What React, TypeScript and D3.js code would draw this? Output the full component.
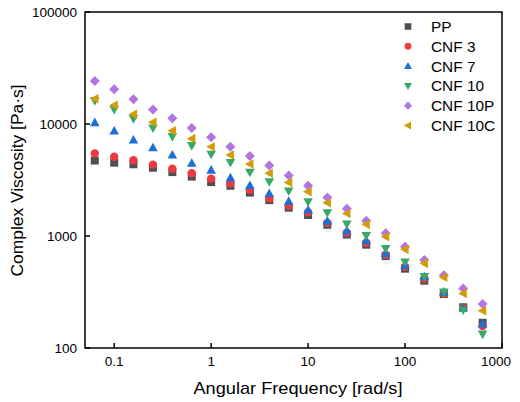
import React from "react";
import * as d3 from "d3";

const frequencies = [0.0631, 0.1, 0.158, 0.251, 0.398, 0.631, 1, 1.58, 2.51, 3.98, 6.31, 10, 15.8, 25.1, 39.8, 63.1, 100, 158, 251, 398, 631];

const ppValues = [4720, 4520, 4370, 4070, 3720, 3390, 3030, 2810, 2440, 2090, 1790, 1540, 1260, 1030, 836, 662, 511, 399, 303, 231, 168];
const cnf3Values = [5470, 5100, 4740, 4340, 3990, 3630, 3250, 2950, 2580, 2170, 1870, 1630, 1310, 1070, 871, 680, 532, 416, 307, 228, 157];
const cnf7Values = [10300, 8670, 7200, 6150, 5290, 4460, 3880, 3310, 2830, 2400, 2040, 1710, 1360, 1110, 908, 700, 547, 433, 316, 228, 164];
const cnf10Values = [16100, 13500, 11150, 9200, 7700, 6400, 5360, 4520, 3710, 3050, 2520, 2020, 1610, 1280, 1010, 771, 586, 433, 316, 218, 133];
const cnf10PValues = [24200, 20400, 16600, 13500, 11250, 9200, 7600, 6270, 5180, 4250, 3460, 2810, 2210, 1750, 1370, 1060, 803, 611, 446, 339, 247];
const cnf10CValues = [16800, 14700, 12200, 10350, 8700, 7400, 6270, 5280, 4400, 3630, 3010, 2490, 1980, 1590, 1270, 986, 760, 570, 428, 307, 215];

const seriesNames = ["PP", "CNF 3", "CNF 7", "CNF 10", "CNF 10P", "CNF 10C"];
const seriesValues = [ppValues, cnf3Values, cnf7Values, cnf10Values, cnf10PValues, cnf10CValues];
const seriesColors = ["#4f4f4f", "#ec3b40", "#1d6fd8", "#38a866", "#b274e2", "#d49c06"];
const seriesShapes = ["square", "circle", "up", "down", "diamond", "left"];

const xTicks = [0.1, 1, 10, 100, 1000];
const xTickLabels = ["0.1", "1", "10", "100", "1000"];
const yTicks = [100, 1000, 10000, 100000];
const yTickLabels = ["100", "1000", "10000", "100000"];

const W = 520;
const H = 402;
const M = { left: 85, right: 502, top: 12, bottom: 348 };

function markerPath(shape: string, cx: number, cy: number, s: number): string {
  switch (shape) {
    case "square":
      return `M${cx - s},${cy - s}h${2 * s}v${2 * s}h${-2 * s}Z`;
    case "circle": {
      const r = s * 1.05;
      return `M${cx - r},${cy}a${r},${r} 0 1,0 ${2 * r},0a${r},${r} 0 1,0 ${-2 * r},0Z`;
    }
    case "up":
      return `M${cx},${cy - s * 1.25}L${cx + s * 1.2},${cy + s * 0.9}L${cx - s * 1.2},${cy + s * 0.9}Z`;
    case "down":
      return `M${cx},${cy + s * 1.25}L${cx + s * 1.2},${cy - s * 0.9}L${cx - s * 1.2},${cy - s * 0.9}Z`;
    case "left":
      return `M${cx - s * 1.25},${cy}L${cx + s * 0.9},${cy - s * 1.2}L${cx + s * 0.9},${cy + s * 1.2}Z`;
    case "diamond":
      return `M${cx},${cy - s * 1.25}L${cx + s * 1.25},${cy}L${cx},${cy + s * 1.25}L${cx - s * 1.25},${cy}Z`;
  }
  return "";
}

export default function App() {
  const x = d3.scaleLog().domain([0.05, 1000]).range([M.left, M.right]);
  const y = d3.scaleLog().domain([100, 100000]).range([M.bottom, M.top]);
  const font = "'Liberation Sans', Arial, sans-serif";

  return (
    <svg width={W} height={H} style={{ position: "absolute", left: 0, top: 0 }} fontFamily={font}>
      <rect width={W} height={H} fill="#fff" />
      {seriesValues.map((vals, si) => (
        <g key={si}>
          {vals.map((v, i) => (
            <path key={i} d={markerPath(seriesShapes[si], x(frequencies[i]), y(v), 4)} fill={seriesColors[si]} />
          ))}
        </g>
      ))}
      <rect x={M.left} y={M.top} width={M.right - M.left} height={M.bottom - M.top} fill="none" stroke="#000" strokeWidth={1.5} />
      {xTicks.map((t, i) => (
        <g key={"x" + i}>
          <line x1={x(t)} x2={x(t)} y1={M.bottom} y2={M.bottom - 5} stroke="#000" strokeWidth={1.5} />
          <text x={x(t) - (t === 1000 ? 6 : 0)} y={366} fontSize={13.5} textAnchor="middle">{xTickLabels[i]}</text>
        </g>
      ))}
      {yTicks.map((t, i) => (
        <g key={"y" + i}>
          <line x1={M.left} x2={M.left + 5} y1={y(t)} y2={y(t)} stroke="#000" strokeWidth={1.5} />
          <text x={77} y={y(t) + 4.8} fontSize={13.5} textAnchor="end">{yTickLabels[i]}</text>
        </g>
      ))}
      <text x={193.5} y={393.5} fontSize={17} textLength={209} lengthAdjust="spacingAndGlyphs">Angular Frequency [rad/s]</text>
      <text transform={`translate(23,276.5) rotate(-90)`} fontSize={17} textLength={192} lengthAdjust="spacingAndGlyphs">Complex Viscosity [Pa·s]</text>
      {seriesNames.map((name, i) => {
        const cy = 26.5 + i * 19.8;
        return (
          <g key={"l" + i}>
            <path d={markerPath(seriesShapes[i], 408, cy, 3.3)} fill={seriesColors[i]} />
            <text x={431} y={cy + 5.5} fontSize={15.4}>{name}</text>
          </g>
        );
      })}
    </svg>
  );
}
